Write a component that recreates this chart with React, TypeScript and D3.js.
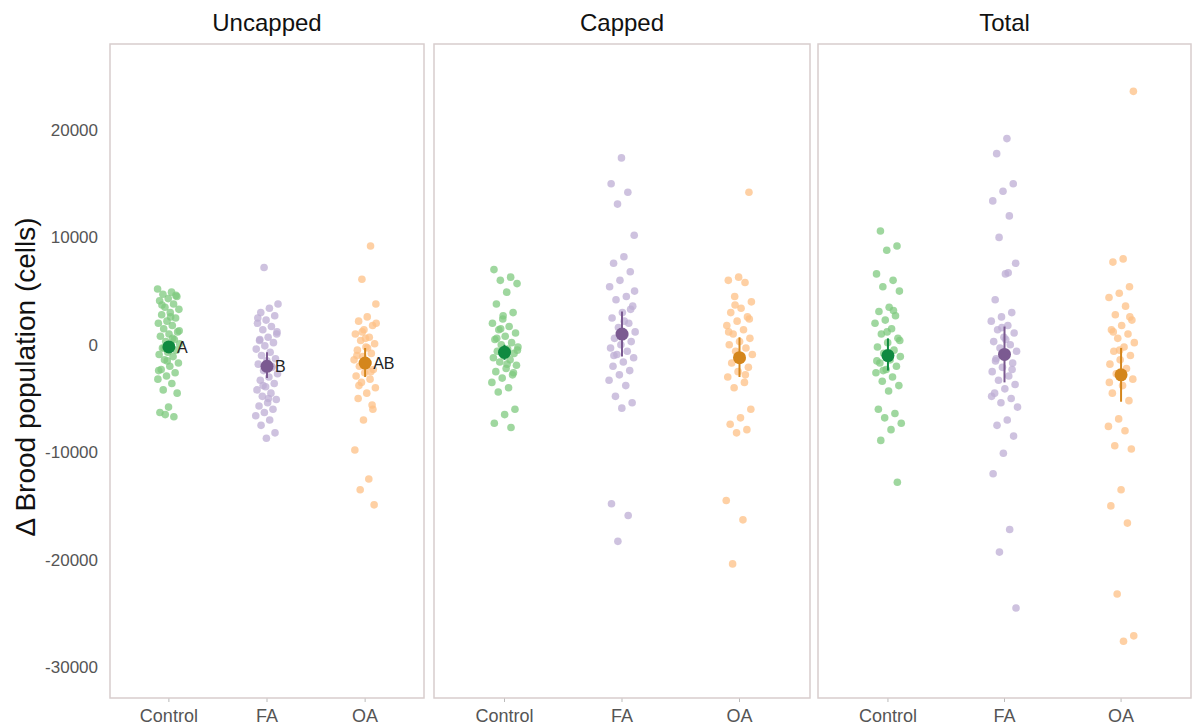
import React from "react";
import * as d3 from "d3";

const groups = ["Control", "FA", "OA"];
const panels = ["Uncapped", "Capped", "Total"];
const yTicks = [20000, 10000, 0, -10000, -20000, -30000];

const uncappedControl = [5200, 4900, 4700, 4500, 4300, 4100, 3800, 3500, 3300, 3000, 2800, 2500, 2200, 2000, 1800, 1500, 1200, 1000, 800, 500, 300, 100, -100, -300, -500, -700, -900, -1100, -1400, -1700, -2000, -2300, -2600, -2900, -3200, -3600, -4200, -4500, -5800, -6300, -6700, -6500, 1300, 2600, 3700, 4600, -1500, -2400, 600, -300];
const uncappedFA = [7200, 3800, 3400, 3000, 2700, 2300, 2000, 1700, 1400, 1000, 700, 400, 200, -100, -400, -700, -1000, -1300, -1500, -1800, -2100, -2400, -2700, -3000, -3300, -3600, -3900, -4200, -4500, -4800, -5100, -5400, -5700, -6000, -6300, -6600, -7000, -7500, -8200, -8700, 2500, -2000, -3800, 1200, -5000, 500];
const uncappedOA = [9200, 6100, 3800, 2600, 2200, 1800, 1400, 1000, 700, 400, 100, -200, -500, -800, -1100, -1400, -1700, -2000, -2300, -2600, -2900, -3200, -3500, -4000, -4500, -5000, -5600, -7000, -9800, -12500, -13500, -14900, 600, -1000, -2500, 1200, 2000, -300, -3800, -6000];
const cappedControl = [7000, 6300, 6000, 5700, 4900, 3800, 3000, 2400, 2000, 1700, 1400, 1100, 800, 500, 200, 0, -200, -400, -600, -800, -1000, -1200, -1400, -1600, -1900, -2200, -2500, -2800, -3100, -3500, -4000, -4400, -6000, -6500, -7300, -7700, 1500, -500, -1800, 600, -2600, 2700];
const cappedFA = [17400, 15000, 14200, 13100, 10200, 8200, 7600, 6800, 6000, 5400, 4500, 4200, 3600, 3000, 2500, 2000, 1600, 1200, 900, 600, 300, 0, -300, -600, -900, -1200, -1600, -2000, -2400, -2800, -3300, -3800, -4800, -5400, -5900, -14800, -15900, -18300, 5000, 2200, -1000, 3300];
const cappedOA = [14200, 6300, 6000, 5800, 4500, 4000, 3400, 3000, 2600, 2200, 1800, 1400, 1000, 600, 300, 0, -300, -600, -900, -1300, -1700, -2100, -2500, -3000, -3500, -4000, -6000, -6800, -7400, -7900, -8200, -14500, -16300, -20400, 2400, -1000, 1200, -2800, 3700];
const totalControl = [10600, 9200, 8800, 6600, 6000, 5400, 5000, 3500, 3100, 2700, 2300, 2000, 1500, 1000, 600, 200, -200, -500, -800, -1100, -1400, -1700, -2000, -2300, -2600, -3000, -3400, -3800, -4300, -6000, -6400, -6800, -7300, -7900, -8900, -12800, 1200, -1500, 3200, -2400, 400];
const totalFA = [19200, 17800, 15000, 14300, 13400, 12000, 10000, 7600, 6600, 4200, 3000, 2600, 2200, 1800, 1400, 1100, 700, 300, 0, -300, -600, -900, -1300, -1700, -2100, -2500, -2900, -3300, -3700, -4100, -4500, -5000, -5400, -5800, -7000, -7500, -8500, -10100, -12000, -17200, -19300, -24500, 500, -1500, -2300, 1600, -4800, 6700];
const totalOA = [23600, 8000, 7700, 5400, 4800, 4400, 3600, 2800, 2300, 1800, 1400, 1000, 600, 200, -200, -600, -1000, -1400, -1800, -2200, -2700, -3200, -3800, -4500, -5200, -6900, -7600, -8000, -9400, -9700, -13500, -15000, -16600, -23200, -27100, -27600, 1200, 2600, -500, -3500];

const pointData = [
  [uncappedControl, uncappedFA, uncappedOA],
  [cappedControl, cappedFA, cappedOA],
  [totalControl, totalFA, totalOA],
];

const means = [
  [-200, -2000, -1700],
  [-700, 1000, -1200],
  [-1000, -900, -2800],
];
const ciLow = [
  [-700, -3100, -3000],
  [-1400, -1100, -3000],
  [-2400, -3500, -5300],
];
const ciHigh = [
  [300, -700, -300],
  [0, 3100, 700],
  [600, 1700, -300],
];
const letters = [["A", "B", "AB"], null, null];

const pointColors = ["#7fc97f", "#beaed4", "#fdc086"];
const meanColors = ["#0f8a40", "#7b5a91", "#d4861c"];

const panelX: [number, number][] = [
  [110, 424],
  [434, 810],
  [818, 1191],
];

const PLOT_TOP = 44;
const PLOT_BOTTOM = 698;

export default function App() {
  const y = d3.scaleLinear().domain([-30000, 20000]).range([667, 130]);
  const font = "Liberation Sans, Arial, Helvetica, sans-serif";

  // deterministic jitter offsets (fraction of category step)
  const jitter = (i: number, g: number) => {
    const f = ((i * 0.6180339887 + g * 0.37) % 1) - 0.5;
    return f * 0.23;
  };

  return (
    <svg width={1192} height={725} style={{ position: "absolute", left: 0, top: 0, background: "#fff" }} fontFamily={font}>
      <rect x={0} y={0} width={1192} height={725} fill="#fff" />
      {yTicks.map((t) => (
        <text key={t} x={98} y={y(t)} dy="0.35em" textAnchor="end" fontSize={17} fill="#555">
          {t}
        </text>
      ))}
      <text
        transform={`translate(35, 377) rotate(-90)`}
        textAnchor="middle"
        fontSize={28}
        fill="#111"
      >
        Δ Brood population (cells)
      </text>
      {panels.map((p, pi) => {
        const [x0, x1] = panelX[pi];
        const x = d3.scalePoint<string>().domain(groups).range([x0, x1]).padding(0.6);
        const step = x.step();
        return (
          <g key={p}>
            <text x={(x0 + x1) / 2} y={31} textAnchor="middle" fontSize={24} fill="#111">
              {p}
            </text>
            {groups.map((g, gi) => {
              const cx = x(g)!;
              return (
                <g key={g}>
                  {pointData[pi][gi].map((v, i) => (
                    <circle
                      key={i}
                      cx={cx + jitter(i, gi + pi * 3) * step}
                      cy={y(v)}
                      r={3.8}
                      fill={pointColors[gi]}
                      fillOpacity={0.75}
                    />
                  ))}
                </g>
              );
            })}
            {groups.map((g, gi) => {
              const cx = x(g)!;
              return (
                <g key={"m" + g}>
                  <line
                    x1={cx}
                    x2={cx}
                    y1={y(ciLow[pi][gi])}
                    y2={y(ciHigh[pi][gi])}
                    stroke={meanColors[gi]}
                    strokeWidth={2}
                  />
                  <circle cx={cx} cy={y(means[pi][gi])} r={6.5} fill={meanColors[gi]} />
                  {letters[pi] && (
                    <text x={cx + 8} y={y(means[pi][gi])} dy="0.38em" fontSize={16} fill="#222">
                      {letters[pi]![gi]}
                    </text>
                  )}
                  <line x1={cx} x2={cx} y1={PLOT_BOTTOM} y2={PLOT_BOTTOM + 4} stroke="#bbb" strokeWidth={1} />
                  <text x={cx} y={722} textAnchor="middle" fontSize={18} fill="#555">
                    {g}
                  </text>
                </g>
              );
            })}
            <rect
              x={x0}
              y={PLOT_TOP}
              width={x1 - x0}
              height={PLOT_BOTTOM - PLOT_TOP}
              fill="none"
              stroke="#d8cdcd"
              strokeWidth={1.5}
            />
          </g>
        );
      })}
    </svg>
  );
}
